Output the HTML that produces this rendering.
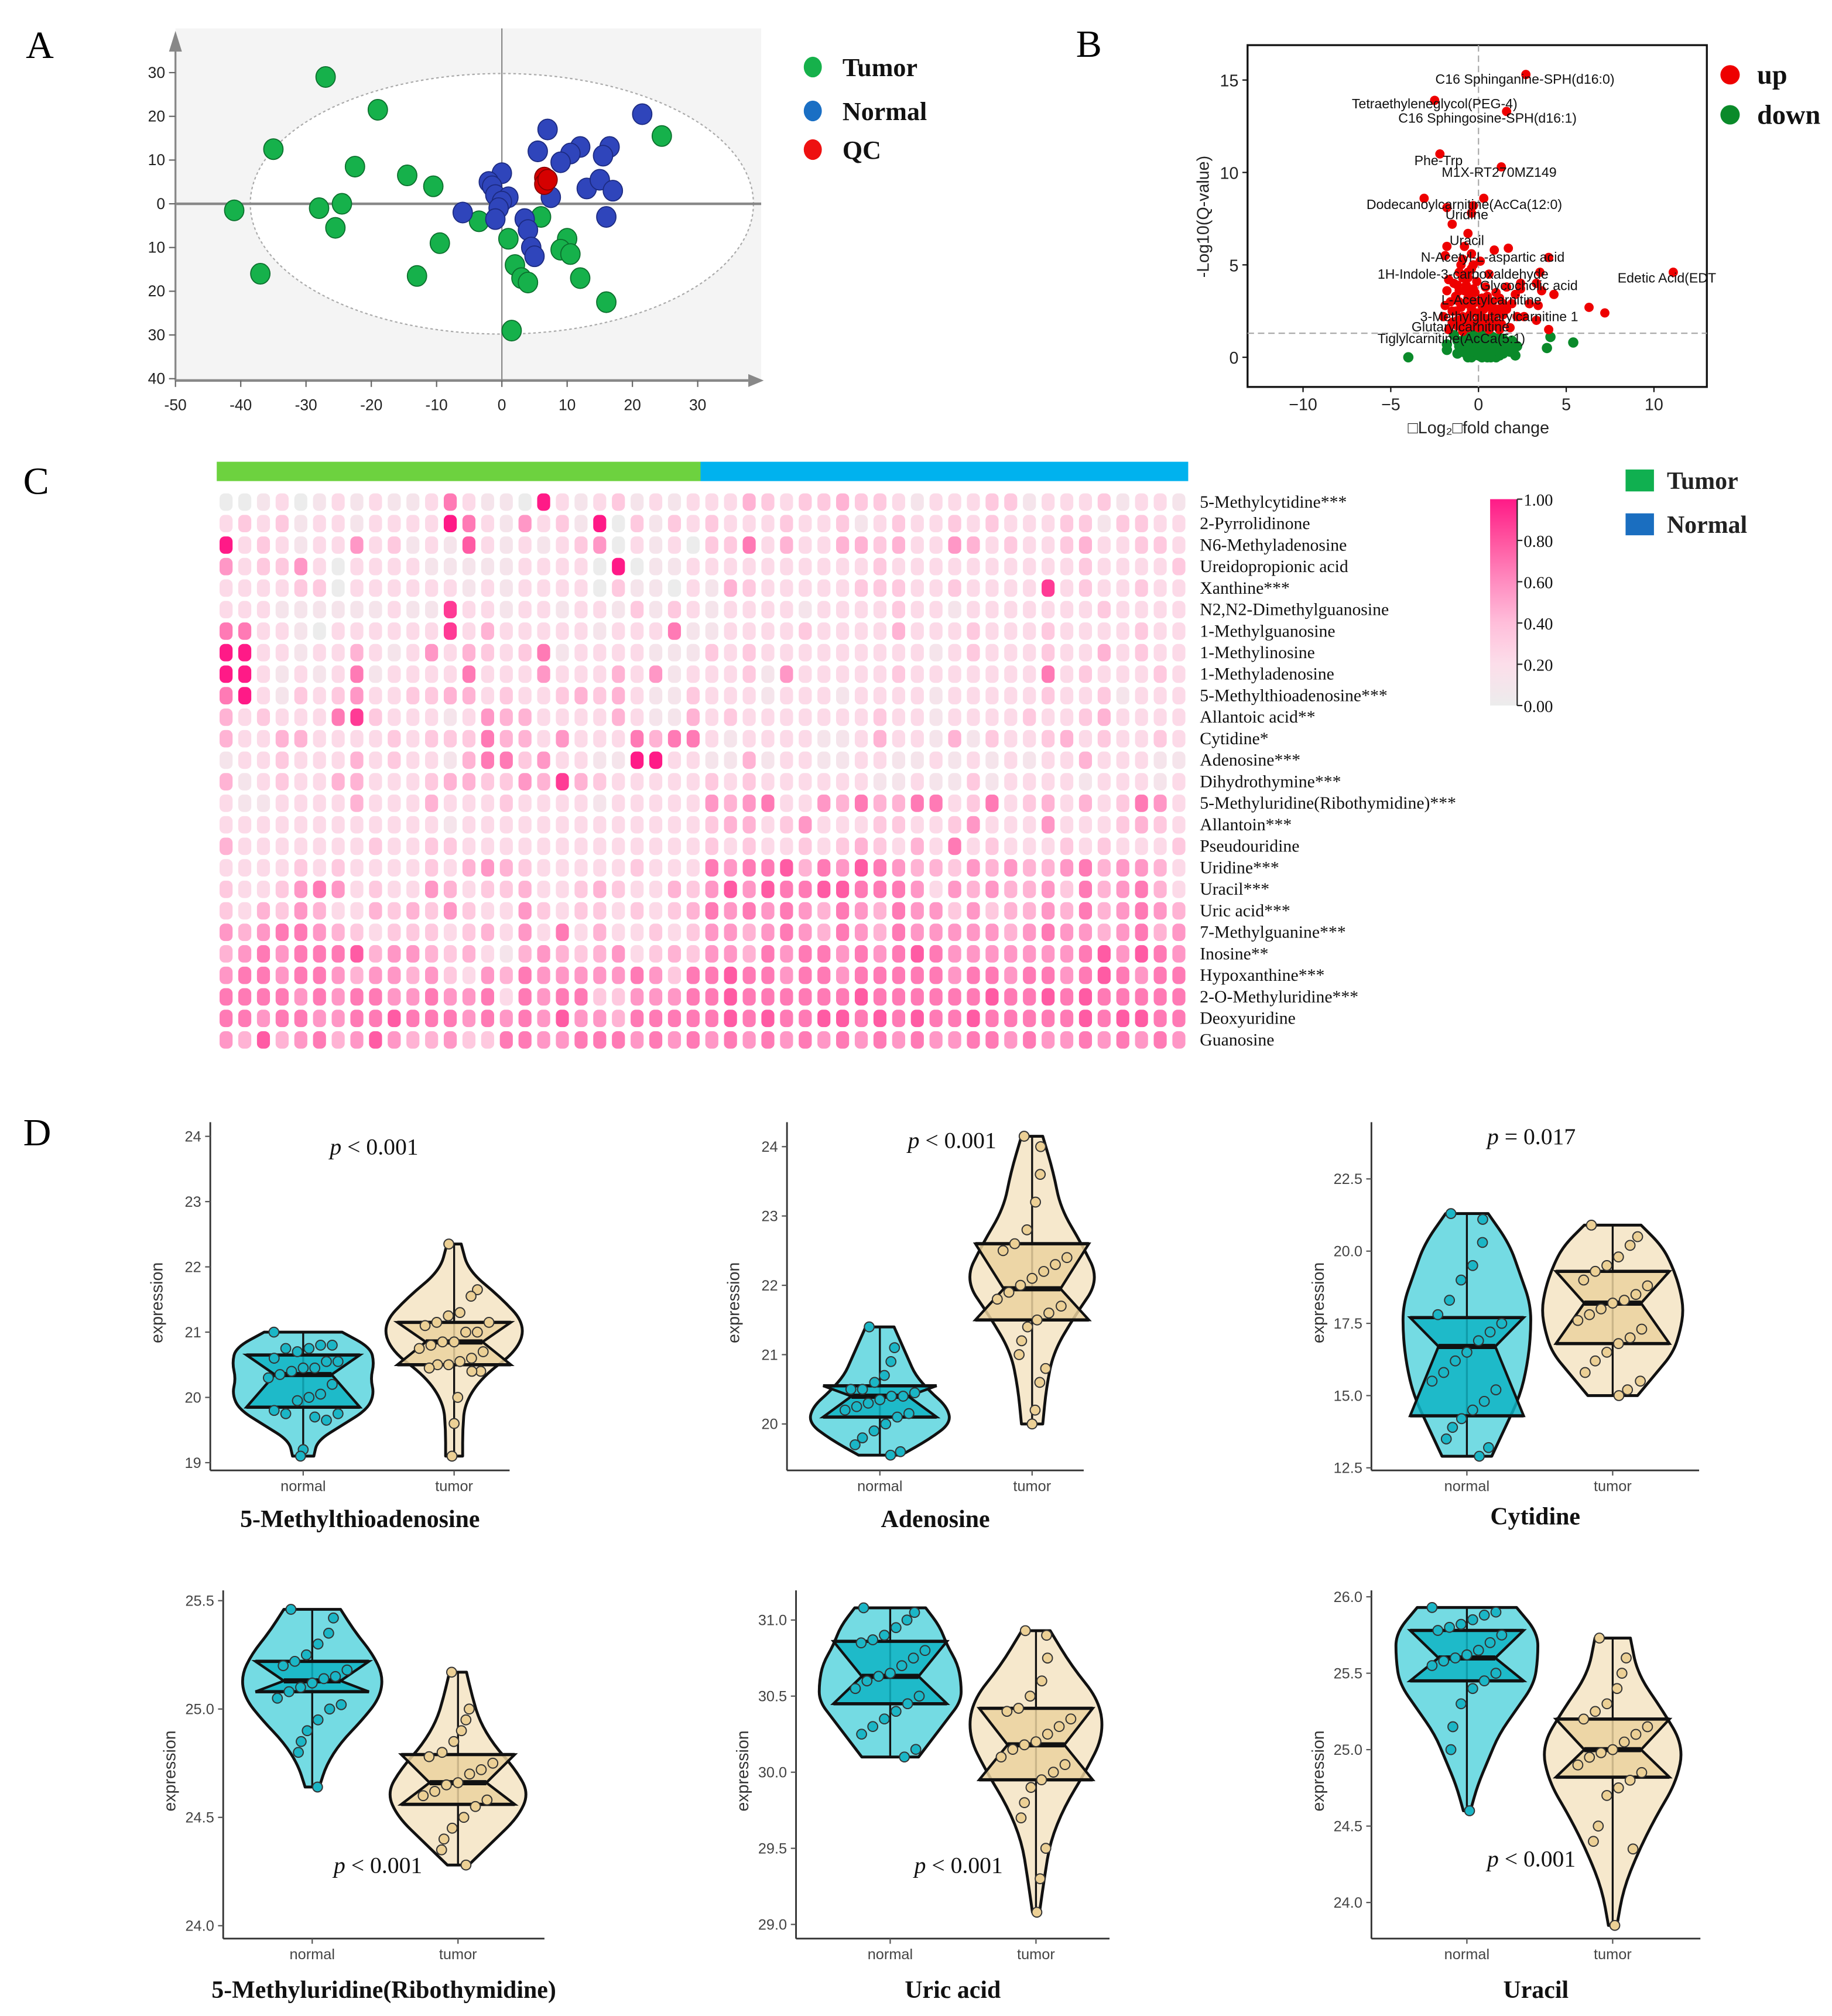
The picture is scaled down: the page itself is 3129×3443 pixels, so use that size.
<!DOCTYPE html>
<html><head><meta charset="utf-8"><style>
html,body{margin:0;padding:0;background:#fff;}
svg{display:block;}
text{font-family:"Liberation Sans",sans-serif;}
.serif{font-family:"Liberation Serif",serif;}
.narrow{font-family:"Liberation Sans Narrow","Liberation Sans",sans-serif;}
</style></head><body>
<svg id="fig" xmlns="http://www.w3.org/2000/svg" width="3129" height="3443" viewBox="0 0 1420 1563" preserveAspectRatio="none">
<rect width="1420" height="1563" fill="#fff"/>
<text class="serif" x="20" y="45" font-size="30">A</text>
<text class="serif" x="834" y="44" font-size="30">B</text>
<text class="serif" x="18" y="383" font-size="30">C</text>
<text class="serif" x="18" y="888" font-size="30">D</text>
<g id="pa"></g>
<g id="pb"></g>
<g id="pc"></g>
<g id="pd"></g>
</svg>
<script>
// ---------- Panel A data ----------
const pcaTumor=[[-27,29],[-19,21.5],[-35,12.5],[-22.5,8.5],[-14.5,6.5],[-10.5,4],[-41,-1.5],[-28,-1],[-24.5,0],[-25.5,-5.5],[-3.5,-4],[-9.5,-9],[-37,-16],[-13,-16.5],[6,-3],[1,-8],[10,-8],[9,-10.5],[10.5,-11.5],[2,-14],[3,-17],[4,-18],[12,-17],[16,-22.5],[1.5,-29],[24.5,15.5]];
const pcaNormal=[[21.5,20.5],[7,17],[5.5,12],[12,13],[16.5,13],[10.5,11.5],[9,9.5],[15.5,11],[0,7],[-2,5],[-1.5,4],[-1,2],[1,1.5],[0,0.5],[-0.5,-1],[-6,-2],[-1,-3.5],[7.5,1.5],[13,3.5],[15,5.5],[17,3],[16,-3],[3.5,-3.5],[4,-6],[4.5,-10],[5,-12]];
const pcaQC=[[6.5,6],[6.5,4.5],[7,5.5]];
const pcaXTicks=[-50,-40,-30,-20,-10,0,10,20,30];
const pcaYTicks=[30,20,10,0,-10,-20,-30,-40];
// ---------- Panel B data ----------
const volUp=[[2.7,15.3],[-2.5,13.9],[1.6,13.3],[-2.2,11],[1.3,10.3],[-3.1,8.6],[0.3,8.6],[-1.8,8.1],[-0.3,8.2],[-0.4,7.8],[-1.5,7.2],[-0.6,6.7],[-1.8,6],[-0.8,6],[1.7,5.9],[0.9,5.8],[-1.9,5.5],[-0.4,5.6],[0.1,5.2],[4,5.4],[-1,5],[-0.4,4.8],[11.1,4.6],[3.5,4.6],[-1.7,4.2],[-0.6,4.3],[2.4,4],[3.3,4],[-1.2,3.9],[-0.3,3.7],[1.6,3.8],[2.4,3.7],[3.6,3.6],[4.3,3.4],[-0.6,3.2],[0.5,3.3],[1.2,3.2],[2.1,3.4],[-1.9,2.8],[-1,2.7],[0.2,2.8],[1.9,2.9],[2.9,2.9],[3.4,2.8],[6.3,2.7],[7.2,2.4],[-1.5,2.5],[-0.5,2.3],[0.8,2.4],[2.6,2.2],[3.3,2.0],[-1.2,2],[0.2,1.9],[1.3,1.8],[-0.6,1.6],[0.6,1.5],[4,1.5],[-1.7,1.5],[-0.9,1.4],[1,3.5],[-0.1,4.1],[0.6,4.5],[-1.3,3.3],[-0.4,2.6],[1.6,2.6],[2.2,2.2],[-0.2,1.8],[1.8,1.6],[-0.8,3.6],[-0.2,3.0],[0.4,2.1],[-1.1,4.6],[-0.9,2.2],[0.9,2.0],
[-1.4,4.0],[-1.1,3.6],[-0.9,4.3],[-0.7,3.9],[-0.5,3.4],[-0.3,2.9],[-0.1,2.4],[0.1,2.2],[0.3,2.6],[0.5,2.9],[0.7,2.7],[0.9,2.3],[1.1,2.6],[1.4,2.3],[-1.6,3.0],[-1.3,2.5],[-1.0,2.0],[-0.8,1.8],[-0.6,2.0],[-0.4,1.7],[0.0,1.6],[0.3,1.7],[0.6,1.9],[0.9,1.7],[1.2,1.5],[-1.2,1.7],[-1.5,1.9],[-0.2,3.5],[0.2,3.2],[-0.6,4.6],[-0.9,5.3],[-0.3,5.0],[0.4,3.8],[0.8,3.0],[1.4,2.9],[-1.8,3.6],[-2.0,2.2],[-0.7,2.9],[-1.1,3.0],[0.0,2.0]];
const volDown=[[-4,0],[-1.8,0.7],[-1.8,0.4],[3.9,0.5],[5.4,0.8],[4.1,1.1],[-1.2,0.9],[-0.8,0.7],[-0.5,0.4],[-0.3,0.1],[0,0.3],[0.3,0.6],[0.6,0.2],[0.9,0.5],[1.2,0.1],[1.5,0.8],[1.8,0.3],[2.1,0.1],[-0.6,1.1],[0,1.0],[0.5,1.1],[1.1,1.0],[-0.2,0.6],[0.7,0.9],[-1.0,0.3],[0.2,0.0],[-0.4,0.0],[1.0,0.0],[1.6,0.4],[2.2,0.6],[-1.4,1.2],[0.4,0.4],[-0.1,0.8],[1.3,0.6],[0.8,0.3],[-0.7,0.2],[0.1,0.2],[1.9,0.9],[-0.9,0.9],[0.5,0.0],
[-0.5,0.8],[-0.2,0.3],[0.2,0.5],[0.6,0.7],[1.0,0.4],[1.4,0.2],[-0.8,0.5],[-1.1,0.6],[0.0,0.1],[0.4,0.9],[0.8,1.1],[1.2,0.8],[-0.3,1.2],[0.2,1.2],[1.7,0.6],[2.0,0.4],[-1.2,0.2],[-0.6,0.0],[0.7,0.0],[1.4,1.0]];
const volXTicks=[-10,-5,0,5,10];
const volYTicks=[0,5,10,15];
const volLabels=[["C16 Sphinganine-SPH(d16:0)",1182,61],["Tetraethyleneglycol(PEG-4)",1112,80],["C16 Sphingosine-SPH(d16:1)",1153,91],["Phe-Trp",1115,124],["M1X-RT270MZ149",1162,133],["Dodecanoylcarnitine(AcCa(12:0)",1135,158],["Uridine",1137,166],["Uracil",1137,186],["N-Acetyl-L-aspartic acid",1157,199],["1H-Indole-3-carboxaldehyde",1134,212],["Edetic Acid(EDT",1292,215],["Glycocholic acid",1185,221],["L-Acetylcarnitine",1156,232],["3-Methylglutarylcarnitine 1",1162,245],["Glutarylcarnitine",1132,253],["Tiglylcarnitine(AcCa(5:1)",1125,262]];
// ---------- Panel C data ----------
const heatRows=["5-Methylcytidine***","2-Pyrrolidinone","N6-Methyladenosine","Ureidopropionic acid","Xanthine***","N2,N2-Dimethylguanosine","1-Methylguanosine","1-Methylinosine","1-Methyladenosine","5-Methylthioadenosine***","Allantoic acid**","Cytidine*","Adenosine***","Dihydrothymine***","5-Methyluridine(Ribothymidine)***","Allantoin***","Pseudouridine","Uridine***","Uracil***","Uric acid***","7-Methylguanine***","Inosine**","Hypoxanthine***","2-O-Methyluridine***","Deoxyuridine","Guanosine"];
const heatValues=[
"0012012121126 2110921231212 2243233433212 2233122231221",
"2323122122229 6215231903132 3222322312322 3232223313322",
"9232122523121 7212123502120 3362422443422 5423223422332",
"5233520222211 1112222090112 2222222223222 2222222322223",
"2222330222222 1212222031102 1432222233322 3222282322322",
"2221111112118 2212212213132 1222212222322 1222222232222",
"6622102222228 2422222122261 1222232222422 2322232222322",
"9922122421252 4323612222111 3232222222221 2322232242322",
"9921212612222 6222522242512 2231522222322 2222262322232",
"6921323522334 4232234342113 2221222122221 2222232231222",
"4232226832221 2544222242114 2322222223221 2222322342222",
"4224422223233 3644252226466 2122221124221 4132234232232",
"1223222423221 4663522119922 1141221122112 1212122422211",
"4123224422234 4335484322222 3232222221121 1312222122212",
"2112222422242 2232222122222 5456225464466 2362342423652",
"2222222222221 2222222222222 3442352223322 3522252223432",
"4222222232233 2222222222222 3232232343242 6232223232223",
"2222323222232 4543222223222 6566746576544 3545445645542",
"3223565232254 2334223432243 5757667766652 5454453645642",
"3243542243435 3225323323234 6565654654655 3534454645654",
"5456654323332 3425262422323 5545654654655 5554565545645",
"4565666745543 4214543452343 5546566565676 5555555675765",
"5665665455453 2546555556536 6766566566666 5665665676566",
"6666565665565 5626566335556 6766666676666 6676676766666",
"6656655667666 5656575546666 6767667767676 6766666767766",
"5474564575445 3366556665656 5656565656565 5665655656565"];
const colorbarTicks=["1.00","0.80","0.60","0.40","0.20","0.00"];
// ---------- Panel D data ----------
const vTitles=["5-Methylthioadenosine","Adenosine","Cytidine","5-Methyluridine(Ribothymidine)","Uric acid","Uracil"];
const vPText=["< 0.001","< 0.001","= 0.017","< 0.001","< 0.001","< 0.001"];
const vTicks=[[19,20,21,22,23,24],[20,21,22,23,24],[12.5,15.0,17.5,20.0,22.5],[24.0,24.5,25.0,25.5],[29.0,29.5,30.0,30.5,31.0],[24.0,24.5,25.0,25.5,26.0]];
const vTickLabels=[["19","20","21","22","23","24"],["20","21","22","23","24"],["12.5","15.0","17.5","20.0","22.5"],["24.0","24.5","25.0","25.5"],["29.0","29.5","30.0","30.5","31.0"],["24.0","24.5","25.0","25.5","26.0"]];
const vNormalStats=[[19.1,19.85,20.35,20.65,21.0],[19.55,20.1,20.4,20.55,21.4],[12.9,14.3,16.7,17.7,21.3],[24.64,25.08,25.13,25.22,25.46],[30.1,30.45,30.63,30.86,31.08],[24.6,25.45,25.6,25.78,25.93]];
const vTumorStats=[[19.1,20.5,20.85,21.15,22.35],[20.0,21.5,21.95,22.6,24.15],[15.0,16.8,18.2,19.3,20.9],[24.28,24.56,24.66,24.79,25.17],[29.08,29.95,30.18,30.42,30.93],[23.85,24.82,25.0,25.2,25.73]];
const vNormalShape=[[0.15,0.2,0.55,0.9,1.0,0.95,1.0,0.95,0.55],[0.3,0.7,1.0,0.95,0.7,0.5,0.4,0.3,0.2],[0.35,0.55,0.75,0.85,0.9,0.9,0.75,0.6,0.3],[0.1,0.2,0.4,0.7,0.95,1.0,0.85,0.6,0.4],[0.4,0.6,0.8,1.0,1.0,0.95,0.8,0.7,0.5],[0.05,0.15,0.3,0.45,0.7,0.95,1.0,1.0,0.7]];
const vTumorShape=[[0.12,0.12,0.15,0.4,0.9,1.0,0.65,0.2,0.1],[0.15,0.2,0.3,0.6,0.95,0.7,0.4,0.3,0.15],[0.35,0.6,0.85,0.95,1.0,0.95,0.85,0.7,0.4],[0.15,0.5,0.85,1.0,0.8,0.5,0.3,0.2,0.12],[0.05,0.12,0.2,0.4,0.7,0.95,0.9,0.5,0.2],[0.06,0.15,0.35,0.6,0.9,1.0,0.7,0.35,0.25]];
const vNormalPts=[[21.0,20.8,20.8,20.75,20.7,20.75,20.6,20.55,20.55,20.45,20.45,20.4,20.35,20.3,20.2,20.05,20.0,19.95,19.75,19.8,19.75,19.65,19.7,19.2,19.1],[21.4,21.1,20.9,20.7,20.6,20.5,20.5,20.45,20.4,20.4,20.35,20.3,20.25,20.2,20.15,20.1,20.0,19.9,19.8,19.7,19.6,19.55],[21.3,21.1,20.3,19.5,19.0,18.3,17.8,17.5,17.2,16.9,16.5,16.2,15.8,15.5,15.2,14.8,14.5,14.2,13.9,13.5,13.2,12.9],[25.46,25.42,25.35,25.3,25.25,25.22,25.2,25.18,25.15,25.14,25.12,25.1,25.08,25.05,25.02,25.0,24.95,24.9,24.85,24.8,24.64],[31.08,31.05,31.0,30.95,30.9,30.87,30.85,30.8,30.75,30.7,30.65,30.63,30.6,30.55,30.5,30.45,30.4,30.35,30.3,30.25,30.15,30.1],[25.93,25.9,25.88,25.85,25.82,25.8,25.78,25.75,25.7,25.65,25.62,25.6,25.58,25.55,25.5,25.45,25.4,25.3,25.15,25.0,24.6]];
const vTumorPts=[[22.35,21.65,21.55,21.3,21.25,21.15,21.1,21.15,21.0,21.0,20.85,20.85,20.8,20.75,20.7,20.6,20.55,20.5,20.5,20.45,20.4,20.4,20.0,19.6,19.1],[24.15,24.0,23.6,23.2,22.8,22.6,22.5,22.4,22.3,22.2,22.1,22.0,21.9,21.8,21.7,21.6,21.5,21.4,21.2,21.0,20.8,20.6,20.2,20.0],[20.9,20.5,20.2,19.8,19.5,19.3,19.0,18.8,18.5,18.3,18.2,18.0,17.8,17.6,17.3,17.0,16.8,16.5,16.2,15.8,15.5,15.2,15.0],[25.17,25.0,24.95,24.9,24.85,24.8,24.78,24.75,24.72,24.7,24.66,24.65,24.62,24.6,24.58,24.55,24.5,24.45,24.4,24.35,24.28],[30.93,30.9,30.75,30.6,30.5,30.42,30.4,30.35,30.3,30.25,30.2,30.18,30.15,30.1,30.05,30.0,29.95,29.9,29.8,29.7,29.5,29.3,29.08],[25.73,25.6,25.5,25.4,25.3,25.25,25.2,25.15,25.1,25.05,25.0,24.98,24.95,24.9,24.85,24.8,24.75,24.7,24.5,24.4,24.35,23.85]];

const NS="http://www.w3.org/2000/svg";
function mk(parent,tag,attrs,txt){const e=document.createElementNS(NS,tag);for(const k in attrs)e.setAttribute(k,attrs[k]);if(txt!==undefined)e.textContent=txt;parent.appendChild(e);return e;}

// ===== Panel A =====
(function(){
const g=document.getElementById('pa');
const xS=v=>389+v*5.06, yS=v=>158-v*3.39;
let e=mk(g,'rect',{x:136,y:22,width:454,height:273,fill:'#f4f4f4'});

e=mk(g,'ellipse',{cx:389,cy:158,rx:195,ry:101,fill:'#fff',stroke:'#aaa','stroke-dasharray':'2,2','stroke-width':1});

mk(g,'line',{x1:136,y1:158,x2:590,y2:158,stroke:'#888','stroke-width':2});
mk(g,'line',{x1:389,y1:22,x2:389,y2:295,stroke:'#888','stroke-width':1});
mk(g,'line',{x1:136,y1:295,x2:580,y2:295,stroke:'#888','stroke-width':2});
mk(g,'polygon',{points:'580,290 592,295 580,300',fill:'#888'});
mk(g,'line',{x1:136,y1:295,x2:136,y2:32,stroke:'#888','stroke-width':1.5});
mk(g,'polygon',{points:'131,40 136,24 141,40',fill:'#888'});
pcaXTicks.forEach(t=>{mk(g,'line',{x1:xS(t),y1:295,x2:xS(t),y2:300,stroke:'#666'});
 e=mk(g,'text',{x:xS(t),y:318,'font-size':12,'text-anchor':'middle',fill:'#222'},String(t));
 });
pcaYTicks.forEach(t=>{mk(g,'line',{x1:131,y1:yS(t),x2:136,y2:yS(t),stroke:'#666'});
 e=mk(g,'text',{x:128,y:yS(t)+4,'font-size':12,'text-anchor':'end',fill:'#222'},String(Math.abs(t)));
 });
const dots=(arr,fill,stroke,name)=>arr.forEach(p=>{const c=mk(g,'ellipse',{cx:xS(p[0]),cy:yS(p[1]),rx:7.5,ry:8,fill:fill,stroke:stroke,'stroke-width':0.8});
 });
dots(pcaTumor,'#16b14b','#0b6e2c','pca-point-tumor');
dots(pcaNormal,'#2f45bb','#1c2a80','pca-point-normal');
dots(pcaQC,'#d50000','#800','pca-point-qc');
const leg=[['Tumor','#16b14b',52],['Normal','#1a6fc4',86],['QC','#ee1111',116]];
leg.forEach(l=>{e=mk(g,'ellipse',{cx:630,cy:l[2],rx:7,ry:8,fill:l[1]});
 e=mk(g,'text',{x:653,y:l[2]+7,'font-size':20,'font-weight':'bold',class:'serif',fill:'#111'},l[0]);});
})();

// ===== Panel B =====
(function(){
const g=document.getElementById('pb');
const xS=v=>1146+v*13.6, yS=v=>277-v*14.33;
let e=mk(g,'rect',{x:967,y:35,width:356,height:265,fill:'#fff',stroke:'#111','stroke-width':1.5});

mk(g,'line',{x1:967,y1:yS(1.3),x2:1323,y2:yS(1.3),stroke:'#aaa','stroke-dasharray':'5,3'});
mk(g,'line',{x1:1146,y1:35,x2:1146,y2:300,stroke:'#aaa','stroke-dasharray':'5,3'});
volXTicks.forEach(t=>{mk(g,'line',{x1:xS(t),y1:300,x2:xS(t),y2:304,stroke:'#111'});
 e=mk(g,'text',{x:xS(t),y:318,'font-size':13,'text-anchor':'middle',fill:'#222'},String(t).replace('-','−'));});
volYTicks.forEach(t=>{mk(g,'line',{x1:963,y1:yS(t),x2:967,y2:yS(t),stroke:'#111'});
 e=mk(g,'text',{x:960,y:yS(t)+5,'font-size':13,'text-anchor':'end',fill:'#222'},String(t));});
e=mk(g,'text',{x:1146,y:336,'font-size':13,'text-anchor':'middle',fill:'#222'},'□Log₂□fold change');
e=mk(g,'text',{x:937,y:168,'font-size':13,'text-anchor':'middle',fill:'#222',transform:'rotate(-90 937 168)'},'-Log10(Q-value)');
volDown.forEach(p=>{e=mk(g,'circle',{cx:xS(p[0]),cy:yS(p[1]),r:4,fill:'#0a8a2a'});});
volUp.forEach(p=>{e=mk(g,'circle',{cx:xS(p[0]),cy:yS(p[1]),r:3.6,fill:'#ee0000'});});
volLabels.forEach(l=>{e=mk(g,'text',{x:l[1],y:l[2]+4,'font-size':10.5,'text-anchor':'middle',fill:'#111',class:'narrow'},l[0]);});
[['up','#ee0000',58],['down','#0a8a2a',89]].forEach(l=>{e=mk(g,'circle',{cx:1341,cy:l[2],r:7.5,fill:l[1]});
 e=mk(g,'text',{x:1362,y:l[2]+7,'font-size':21,'font-weight':'bold',class:'serif',fill:'#111'},l[0]);});
})();

// ===== Panel C =====
(function(){
const g=document.getElementById('pc');
const stops=[[0,[236,236,236]],[0.2,[252,222,234]],[0.4,[255,190,218]],[0.6,[255,140,192]],[0.8,[255,85,160]],[1,[255,26,135]]];
function col(v){for(let i=1;i<stops.length;i++){if(v<=stops[i][0]){const a=stops[i-1],b=stops[i],t=(v-a[0])/(b[0]-a[0]);return 'rgb('+a[1].map((c,k)=>Math.round(c+(b[1][k]-c)*t)).join(',')+')';}}return 'rgb(255,26,135)';}
const x0=168,x1=921,nC=52,pitch=(x1-x0)/nC,y0=389,rowH=16.68;
let e=mk(g,'rect',{x:168,y:358,width:375,height:15,fill:'#6dd23f'});
e=mk(g,'rect',{x:543,y:358,width:378,height:15,fill:'#00b2ee'});
heatValues.forEach((s,r)=>{const vals=s.replace(/ /g,'').split('').map(Number);
 vals.forEach((v,c)=>{e=mk(g,'rect',{x:x0+c*pitch+2.2,y:y0+r*rowH-6.5,width:pitch-4.4,height:13.5,rx:4,fill:col(v/9)});
  });
 e=mk(g,'text',{x:930,y:y0+r*rowH+4.5,'font-size':13.5,class:'serif',fill:'#111'},heatRows[r]);
 });
const defs=mk(g,'defs',{});const lg=mk(defs,'linearGradient',{id:'cb',x1:0,y1:1,x2:0,y2:0});
stops.forEach(s=>mk(lg,'stop',{offset:s[0],'stop-color':col(s[0])}));
e=mk(g,'rect',{x:1155,y:387,width:21,height:160,fill:'url(#cb)'});
mk(g,'line',{x1:1176,y1:387,x2:1176,y2:547,stroke:'#222'});
colorbarTicks.forEach((t,i)=>{const y=387+i*32;mk(g,'line',{x1:1176,y1:y,x2:1180,y2:y,stroke:'#222'});
 e=mk(g,'text',{x:1181,y:y+5,'font-size':13,class:'serif',fill:'#111'},t);});
[['Tumor','#10b050',373],['Normal','#1a6ec0',407]].forEach(l=>{e=mk(g,'rect',{x:1260,y:l[2]-9,width:22,height:17,fill:l[1]});
 e=mk(g,'text',{x:1292,y:l[2]+6,'font-size':19,'font-weight':'bold',class:'serif',fill:'#222'},l[0]);});
})();

// ===== Panel D =====
(function(){
const g=document.getElementById('pd');
const layout=[
 {x0:163,x1:395,top:870,bot:1140,t0:1134,t1:881,xn:235,xt:352,px:290,py:895,ty:1178},
 {x0:610,x1:840,top:870,bot:1140,t0:1104,t1:889,xn:682,xt:800,px:738,py:890,ty:1178},
 {x0:1063,x1:1317,top:870,bot:1140,t0:1138,t1:914,xn:1137,xt:1250,px:1187,py:887,ty:1176},
 {x0:173,x1:422,top:1233,bot:1503,t0:1493,t1:1241,xn:242,xt:355,px:293,py:1452,ty:1543},
 {x0:617,x1:860,top:1233,bot:1503,t0:1492,t1:1256,xn:690,xt:803,px:743,py:1452,ty:1543},
 {x0:1063,x1:1318,top:1233,bot:1503,t0:1475,t1:1238,xn:1137,xt:1250,px:1187,py:1447,ty:1543}];
const W=55,BW=44;
function violin(gg,cx,yS,st,shape,pts,fillV,fillB,ptFill,name){
 const n=shape.length,left=[],right=[];
 for(let i=0;i<n;i++){const v=st[0]+(st[4]-st[0])*i/(n-1);const y=yS(v);right.push([cx+shape[i]*W,y]);left.push([cx-shape[i]*W,y]);}
 function widthAt(v){const f=(v-st[0])/(st[4]-st[0])*(n-1);const i=Math.max(0,Math.min(n-2,Math.floor(f)));const t=Math.max(0,Math.min(1,f-i));return (shape[i]+(shape[i+1]-shape[i])*t)*W;}
 function sm(pts){let d='';for(let i=0;i<pts.length;i++){const p=pts[i];if(i===0){d+='M'+p[0]+','+p[1];continue;}const q=pts[i-1];const mx=(q[0]+p[0])/2,my=(q[1]+p[1])/2;d+=' Q'+q[0]+','+q[1]+' '+mx+','+my;}const l=pts[pts.length-1];return d+' L'+l[0]+','+l[1];}
 let d=sm(right);d+=' L'+left[n-1][0]+','+left[n-1][1];
 const lr=left.slice().reverse();for(let i=1;i<lr.length;i++){const q=lr[i-1],p=lr[i];d+=' Q'+q[0]+','+q[1]+' '+((q[0]+p[0])/2)+','+((q[1]+p[1])/2);}
 d+=' L'+left[0][0]+','+left[0][1]+' Z';
 let e=mk(gg,'path',{d:d,fill:fillV,stroke:'#111','stroke-width':2.2,'stroke-linejoin':'round'});
 
 e=mk(gg,'line',{x1:cx,y1:yS(st[0]),x2:cx,y2:yS(st[4]),stroke:'#111','stroke-width':1.5});
 
 const yq1=yS(st[1]),ym=yS(st[2]),yq3=yS(st[3]),nw=BW*0.5;
 e=mk(gg,'polygon',{points:[[cx-BW,yq3],[cx+BW,yq3],[cx+nw,ym],[cx+BW,yq1],[cx-BW,yq1],[cx-nw,ym]].map(p=>p.join(',')).join(' '),fill:fillB,'fill-opacity':0.85,stroke:'#111','stroke-width':2});
 
 mk(gg,'line',{x1:cx-BW,y1:yq3,x2:cx+BW,y2:yq3,stroke:'#111','stroke-width':2.5});
 mk(gg,'line',{x1:cx-BW,y1:yq1,x2:cx+BW,y2:yq1,stroke:'#111','stroke-width':2.5});
 e=mk(gg,'line',{x1:cx-nw,y1:ym,x2:cx+nw,y2:ym,stroke:'#111','stroke-width':4});
 
 pts.forEach((v,i)=>{const f=(((i*37)%13)-6)/6;const jit=f*Math.min(27,widthAt(v)*0.75);e=mk(gg,'circle',{cx:cx+jit,cy:yS(v),r:3.8,fill:ptFill,stroke:'#333','stroke-width':0.9});
  });
}
layout.forEach((L,k)=>{
 const gg=mk(g,'g',{});
 const tk=vTicks[k];const a=tk[0],b=tk[tk.length-1];
 const yS=v=>L.t0+(v-a)*(L.t1-L.t0)/(b-a);
 let e=mk(gg,'line',{x1:L.x0,y1:L.top,x2:L.x0,y2:L.bot,stroke:'#333','stroke-width':1.3});
 e=mk(gg,'line',{x1:L.x0,y1:L.bot,x2:L.x1,y2:L.bot,stroke:'#333','stroke-width':1.3});
 tk.forEach((t,i)=>{mk(gg,'line',{x1:L.x0-4,y1:yS(t),x2:L.x0,y2:yS(t),stroke:'#555'});
  e=mk(gg,'text',{x:L.x0-7,y:yS(t)+4,'font-size':11.5,'text-anchor':'end',fill:'#444'},vTickLabels[k][i]);});
 [[L.xn,'normal'],[L.xt,'tumor']].forEach(c=>{mk(gg,'line',{x1:c[0],y1:L.bot,x2:c[0],y2:L.bot+4,stroke:'#555'});
  e=mk(gg,'text',{x:c[0],y:L.bot+16,'font-size':11.5,'text-anchor':'middle',fill:'#444'},c[1]);});
 const ym=(L.top+L.bot)/2+5,xl=L.x0-37;
 e=mk(gg,'text',{x:xl,y:ym,'font-size':13,'text-anchor':'middle',fill:'#333',transform:'rotate(-90 '+xl+' '+ym+')'},'expression');
 violin(gg,L.xn,yS,vNormalStats[k],vNormalShape[k],vNormalPts[k],'#74dbe3','#0fb4c4','#1bb6c6','normal');
 violin(gg,L.xt,yS,vTumorStats[k],vTumorShape[k],vTumorPts[k],'#f6e8cc','#ebd29f','#ecd095','tumor');
 const pt=mk(gg,'text',{x:L.px,y:L.py,'font-size':18,'text-anchor':'middle',class:'serif',fill:'#111'});
 
 mk(pt,'tspan',{'font-style':'italic'},'p');mk(pt,'tspan',{},' '+vPText[k]);
 e=mk(gg,'text',{x:(L.x0+L.x1)/2,y:L.ty+6,'font-size':19,'font-weight':'bold','text-anchor':'middle',class:'serif',fill:'#111'},vTitles[k]);
});
})();
</script>
</body></html>
